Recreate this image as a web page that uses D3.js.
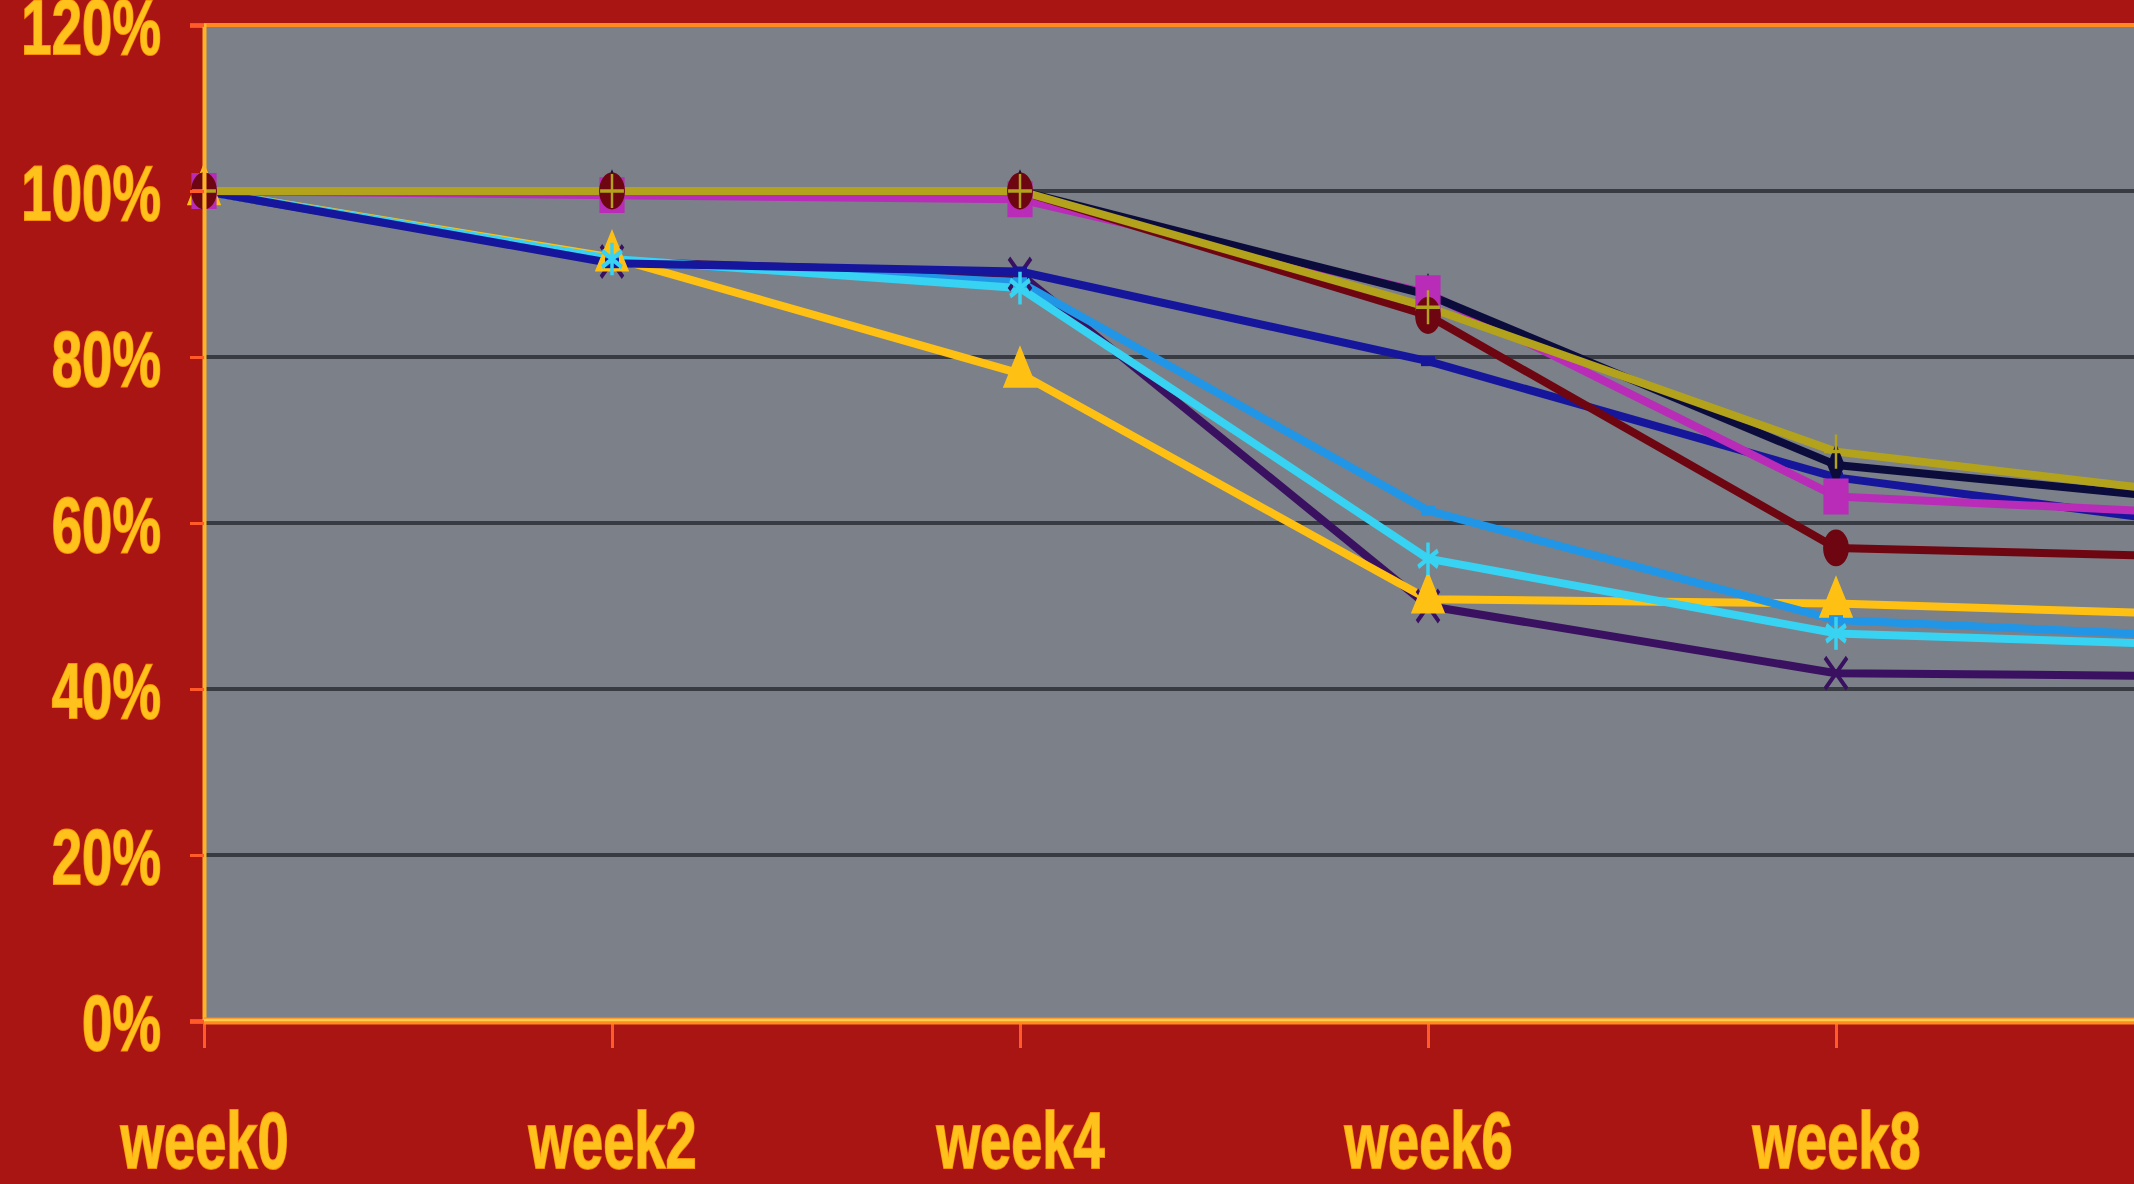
<!DOCTYPE html>
<html>
<head>
<meta charset="utf-8">
<script src="https://cdn.jsdelivr.net/npm/d3@7/dist/d3.min.js"></script>
<style>
  html, body { margin: 0; padding: 0; background: #a91513; overflow: hidden; }
  svg { display: block; }
</style>
</head>
<body>
<svg id="chart" width="2134" height="1184"></svg>
<script>
// ---------- data ----------
const weeks = ["week0", "week2", "week4", "week6", "week8", "week10"];
const xTickLabels = ["week0", "week2", "week4", "week6", "week8"];
const yTickValues = [0, 0.2, 0.4, 0.6, 0.8, 1.0, 1.2];

const purpleSeries  = [1.00, 0.915, 0.900, 0.500, 0.419, 0.415];
const orangeSeries  = [1.00, 0.920, 0.780, 0.508, 0.503, 0.488];
const skySeries     = [1.00, 0.915, 0.890, 0.615, 0.483, 0.461];
const cyanSeries    = [1.00, 0.918, 0.883, 0.557, 0.467, 0.451];
const blueSeries    = [1.00, 0.913, 0.903, 0.795, 0.655, 0.591];
const magentaSeries = [1.00, 0.995, 0.990, 0.877, 0.632, 0.609];
const maroonSeries  = [1.00, 1.000, 1.000, 0.850, 0.570, 0.558];
const blackSeries   = [1.00, 1.000, 1.000, 0.875, 0.670, 0.622];
const oliveSeries   = [1.00, 1.000, 1.000, 0.860, 0.686, 0.628];

// ---------- styles ----------
const seriesList = [
  { values: purpleSeries,  color: "#3a1160", marker: "times",    lineOrder: 0, markOrder: 0 },
  { values: orangeSeries,  color: "#ffc014", marker: "triangle", lineOrder: 1, markOrder: 1 },
  { values: skySeries,     color: "#2196e6", marker: "dash",     lineOrder: 2, markOrder: 2 },
  { values: cyanSeries,    color: "#38d2f2", marker: "asterisk", lineOrder: 3, markOrder: 4 },
  { values: blueSeries,    color: "#16169c", marker: "dash",     lineOrder: 4, markOrder: 3 },
  { values: magentaSeries, color: "#b82cb8", marker: "square",   lineOrder: 5, markOrder: 6 },
  { values: maroonSeries,  color: "#6e0612", marker: "circle",   lineOrder: 6, markOrder: 7 },
  { values: blackSeries,   color: "#0c0c3c", marker: "diamond",  lineOrder: 7, markOrder: 5 },
  { values: oliveSeries,   color: "#b3a21c", marker: "plus",     lineOrder: 8, markOrder: 8 }
];

const W = 2134, H = 1184;
const svg = d3.select("#chart");

const x = d3.scalePoint().domain(weeks).range([204, 2244]);
const y = d3.scaleLinear().domain([0, 1.2]).range([1021, 25]);
const squish = 0.7;

// background
svg.append("rect").attr("width", W).attr("height", H).attr("fill", "#a91513");

// plot area
svg.append("rect")
  .attr("x", x("week0")).attr("y", y(1.2))
  .attr("width", W - x("week0") + 10).attr("height", y(0) - y(1.2))
  .attr("fill", "#7b8089");

// gridlines
svg.append("g")
  .selectAll("line")
  .data(yTickValues.filter(v => v > 0 && v < 1.2))
  .join("line")
  .attr("x1", x("week0")).attr("x2", W)
  .attr("y1", d => y(d)).attr("y2", d => y(d))
  .attr("stroke", "#383c42").attr("stroke-width", 4);

// top border
svg.append("line")
  .attr("x1", x("week0")).attr("x2", W)
  .attr("y1", y(1.2)).attr("y2", y(1.2))
  .attr("stroke", "#ff8a1e").attr("stroke-width", 4);

// lines
const line = d3.line()
  .x((d, i) => x(weeks[i]))
  .y(d => y(d));

svg.append("clipPath").attr("id", "plotclip")
  .append("rect").attr("x", x("week0") - 30).attr("y", 0).attr("width", W).attr("height", y(0));

const plot = svg.append("g").attr("clip-path", "url(#plotclip)");

const symbolMap = {
  circle: d3.symbolCircle,
  square: d3.symbolSquare,
  triangle: d3.symbolTriangle,
  diamond: d3.symbolDiamond,
  asterisk: d3.symbolAsterisk,
  times: d3.symbolTimes,
  plus: d3.symbolPlus
};
const strokeMarkers = new Set(["asterisk", "times", "plus"]);
const markerSize = { circle: 950, square: 1150, triangle: 900, diamond: 450, asterisk: 750, times: 650, plus: 380 };

[...seriesList].sort((a, b) => a.lineOrder - b.lineOrder).forEach(s => {
  plot.append("path")
    .datum(s.values)
    .attr("d", line)
    .attr("fill", "none")
    .attr("stroke", s.color)
    .attr("stroke-width", 8)
    .attr("stroke-linejoin", "round");
});

[...seriesList].sort((a, b) => a.markOrder - b.markOrder).forEach(s => {
  const g = plot.append("g");
  s.values.forEach((v, i) => {
    const cx = x(weeks[i]), cy = y(v);
    const t = `translate(${cx},${cy}) scale(${squish},1)`;
    if (s.marker === "dash") {
      g.append("line")
        .attr("transform", t)
        .attr("x1", -10).attr("x2", 10).attr("y1", 0).attr("y2", 0)
        .attr("stroke", s.color).attr("stroke-width", 10);
    } else if (strokeMarkers.has(s.marker)) {
      g.append("path")
        .attr("transform", t)
        .attr("d", d3.symbol(symbolMap[s.marker], markerSize[s.marker])())
        .attr("fill", "none")
        .attr("stroke", s.color)
        .attr("stroke-width", s.marker === "plus" ? 3.5 : 5);
    } else {
      g.append("path")
        .attr("transform", t)
        .attr("d", d3.symbol(symbolMap[s.marker], markerSize[s.marker])())
        .attr("fill", s.color)
        .attr("stroke", s.color)
        .attr("stroke-width", 2);
    }
  });
});

// y axis
const yAxis = d3.axisLeft(y)
  .tickValues(yTickValues)
  .tickFormat(d3.format(".0%"))
  .tickSize(14)
  .tickPadding(0);

const yg = svg.append("g")
  .attr("transform", `translate(${x("week0")},0)`)
  .call(yAxis);
yg.select(".domain").attr("stroke", "#ffb22a").attr("stroke-width", 4);
yg.selectAll(".tick line").attr("stroke", "#ff5a28").attr("stroke-width", 3);
yg.selectAll(".tick text")
  .attr("x", -43 / squish)
  .attr("dy", "0.36em")
  .attr("transform", `scale(${squish},1)`)
  .attr("text-anchor", "end")
  .attr("font-family", "'Liberation Sans', Arial, sans-serif")
  .attr("font-weight", "bold")
  .attr("font-size", 78)
  .attr("fill", "#ffc21c")
  .attr("stroke", "#ff8c00")
  .attr("stroke-width", 2)
  .attr("paint-order", "stroke");

// x axis
const xAxis = d3.axisBottom(x)
  .tickValues(xTickLabels)
  .tickSize(27)
  .tickPadding(0);

const xg = svg.append("g")
  .attr("transform", `translate(0,${y(0)})`)
  .call(xAxis);
xg.select(".domain").remove();
xg.append("line")
  .attr("x1", x("week0")).attr("x2", W).attr("y1", 0).attr("y2", 0)
  .attr("stroke", "#ff8a1e").attr("stroke-width", 7);
xg.append("line")
  .attr("x1", x("week0")).attr("x2", W).attr("y1", -1).attr("y2", -1)
  .attr("stroke", "#ffd050").attr("stroke-width", 2.5);
xg.selectAll(".tick line").attr("stroke", "#ff5a28").attr("stroke-width", 3);
xg.selectAll(".tick text")
  .attr("y", 147)
  .attr("dy", 0)
  .attr("transform", `scale(${squish},1)`)
  .attr("text-anchor", "middle")
  .attr("font-family", "'Liberation Sans', Arial, sans-serif")
  .attr("font-weight", "bold")
  .attr("font-size", 80)
  .attr("fill", "#ffc21c")
  .attr("stroke", "#ff8c00")
  .attr("stroke-width", 2)
  .attr("paint-order", "stroke");
</script>
</body>
</html>
